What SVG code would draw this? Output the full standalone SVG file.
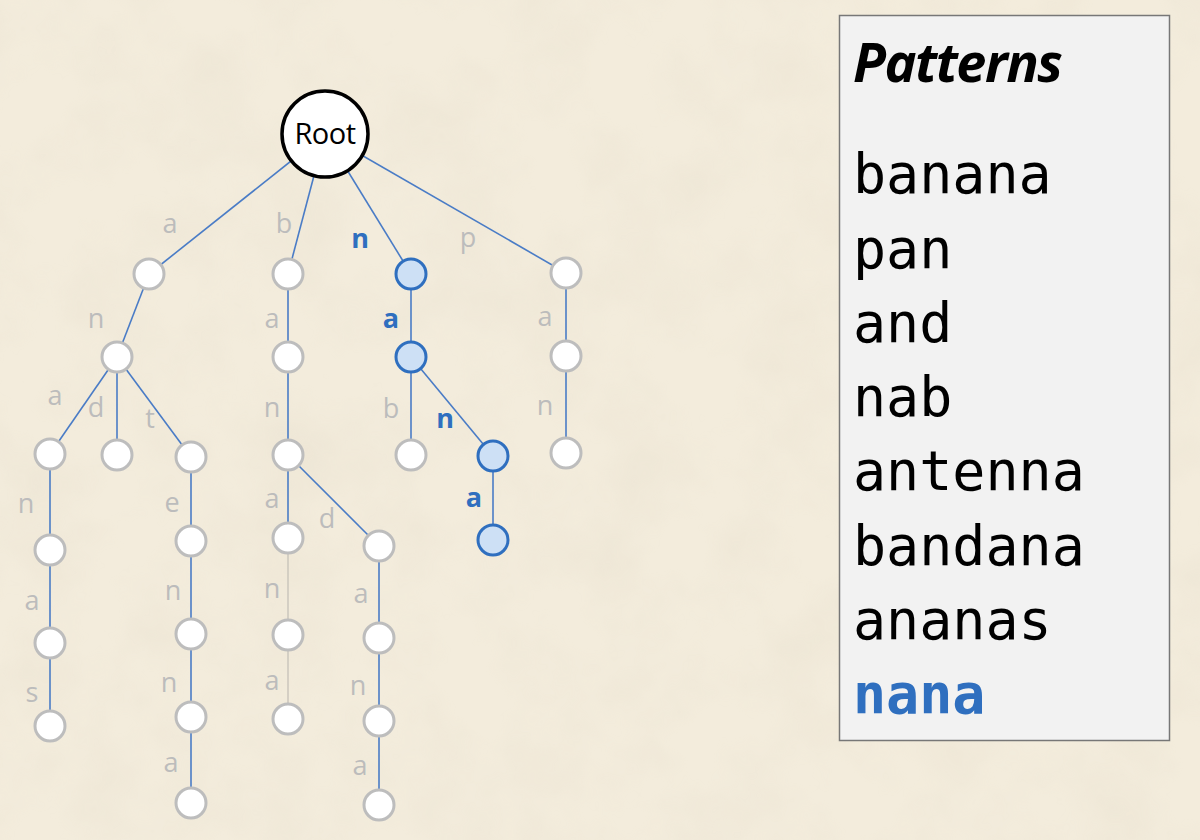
<svg xmlns="http://www.w3.org/2000/svg" width="1200" height="840" viewBox="0 0 1200 840">
<defs>
<style>
.nd{fill:#ffffff;stroke:#bdbdbd;stroke-width:3}
.hl{fill:#cde0f5;stroke:#2f6fbf;stroke-width:3}
.e{stroke:#4a7cc6;stroke-width:1.6;fill:none}
.eg{stroke:#cdc8be;stroke-width:1.6;fill:none}
.lb{font-family:"Open Sans","Noto Sans",sans-serif;font-size:27px;fill:#bcbcbc;text-anchor:middle}
.lbh{fill:#2f6fbf;font-weight:bold}
.pw{font-family:"DejaVu Sans Mono","Liberation Mono",monospace;font-size:55px;fill:#000}
.pwh{fill:#2f6fbf;font-weight:bold}
</style>
<filter id="paper" x="0" y="0" width="100%" height="100%">
<feTurbulence type="fractalNoise" baseFrequency="0.012" numOctaves="4" seed="3" result="n"/>
<feColorMatrix in="n" type="matrix" values="0 0 0 0 0.80  0 0 0 0 0.74  0 0 0 0 0.62  0 0 0 -1.2 0.75" result="c"/>
<feComposite in="c" in2="SourceGraphic" operator="in"/>
</filter>
</defs>
<rect x="0" y="0" width="1200" height="840" fill="#f3ecdc"/>
<rect x="0" y="0" width="1200" height="840" fill="#f3ecdc" filter="url(#paper)" opacity="0.6"/>

<g id="connectors">
<line class="e" x1="325" y1="134" x2="149" y2="274"/>
<line class="e" x1="325" y1="134" x2="288" y2="274"/>
<line class="e" x1="325" y1="134" x2="411" y2="274"/>
<line class="e" x1="325" y1="134" x2="566" y2="273"/>
<line class="e" x1="149" y1="274" x2="117" y2="357"/>
<line class="e" x1="288" y1="274" x2="288" y2="357"/>
<line class="e" x1="411" y1="274" x2="411" y2="357"/>
<line class="e" x1="566" y1="273" x2="566" y2="356"/>
<line class="e" x1="117" y1="357" x2="50" y2="454"/>
<line class="e" x1="117" y1="357" x2="117" y2="455"/>
<line class="e" x1="117" y1="357" x2="191" y2="457"/>
<line class="e" x1="288" y1="357" x2="288" y2="455"/>
<line class="e" x1="411" y1="357" x2="411" y2="455"/>
<line class="e" x1="411" y1="357" x2="493" y2="456"/>
<line class="e" x1="566" y1="356" x2="566" y2="453"/>
<line class="e" x1="50" y1="454" x2="50" y2="550"/>
<line class="e" x1="191" y1="457" x2="191" y2="541"/>
<line class="e" x1="288" y1="455" x2="288" y2="538"/>
<line class="e" x1="288" y1="455" x2="379" y2="546"/>
<line class="e" x1="493" y1="456" x2="493" y2="540"/>
<line class="e" x1="50" y1="550" x2="50" y2="643"/>
<line class="e" x1="191" y1="541" x2="191" y2="634"/>
<line class="eg" x1="288" y1="538" x2="288" y2="635"/>
<line class="e" x1="379" y1="546" x2="379" y2="638"/>
<line class="e" x1="50" y1="643" x2="50" y2="726"/>
<line class="e" x1="191" y1="634" x2="191" y2="717"/>
<line class="eg" x1="288" y1="635" x2="288" y2="719"/>
<line class="e" x1="379" y1="638" x2="379" y2="721"/>
<line class="e" x1="191" y1="717" x2="191" y2="803"/>
<line class="e" x1="379" y1="721" x2="379" y2="805"/>
</g>

<g id="edge-labels">
<text class="lb" x="170" y="233">a</text>
<text class="lb" x="284" y="233">b</text>
<text class="lb lbh" x="360" y="248">n</text>
<text class="lb" x="468" y="247">p</text>
<text class="lb" x="96" y="328">n</text>
<text class="lb" x="272" y="328">a</text>
<text class="lb lbh" x="391" y="328">a</text>
<text class="lb" x="545" y="326">a</text>
<text class="lb" x="55" y="405">a</text>
<text class="lb" x="96" y="417">d</text>
<text class="lb" x="150" y="428">t</text>
<text class="lb" x="272" y="417">n</text>
<text class="lb" x="391" y="418">b</text>
<text class="lb lbh" x="445" y="428">n</text>
<text class="lb" x="545" y="415">n</text>
<text class="lb lbh" x="474" y="507">a</text>
<text class="lb" x="26" y="513">n</text>
<text class="lb" x="172" y="512">e</text>
<text class="lb" x="272" y="508">a</text>
<text class="lb" x="327" y="528">d</text>
<text class="lb" x="32" y="610">a</text>
<text class="lb" x="173" y="600">n</text>
<text class="lb" x="272" y="598">n</text>
<text class="lb" x="361" y="603">a</text>
<text class="lb" x="32" y="702">s</text>
<text class="lb" x="169" y="692">n</text>
<text class="lb" x="272" y="690">a</text>
<text class="lb" x="358" y="695">n</text>
<text class="lb" x="171" y="772">a</text>
<text class="lb" x="360" y="775">a</text>
</g>

<g id="root">
<circle cx="325" cy="134" r="43" fill="#ffffff" stroke="#000" stroke-width="3.5"/>
<text x="325" y="144" font-family="Open Sans,Noto Sans,sans-serif" font-size="29" text-anchor="middle" fill="#000" letter-spacing="-0.5">Root</text>
</g>
<g id="n-a"><circle class="nd" cx="149" cy="274" r="15"/></g>
<g id="n-b"><circle class="nd" cx="288" cy="274" r="15"/></g>
<g id="n-n"><circle class="hl" cx="411" cy="274" r="15"/></g>
<g id="n-p"><circle class="nd" cx="566" cy="273" r="15"/></g>
<g id="n-an"><circle class="nd" cx="117" cy="357" r="15"/></g>
<g id="n-ba"><circle class="nd" cx="288" cy="357" r="15"/></g>
<g id="n-na"><circle class="hl" cx="411" cy="357" r="15"/></g>
<g id="n-pa"><circle class="nd" cx="566" cy="356" r="15"/></g>
<g id="n-ana"><circle class="nd" cx="50" cy="454" r="15"/></g>
<g id="n-and"><circle class="nd" cx="117" cy="455" r="15"/></g>
<g id="n-ant"><circle class="nd" cx="191" cy="457" r="15"/></g>
<g id="n-ban"><circle class="nd" cx="288" cy="455" r="15"/></g>
<g id="n-nab"><circle class="nd" cx="411" cy="455" r="15"/></g>
<g id="n-nan"><circle class="hl" cx="493" cy="456" r="15"/></g>
<g id="n-pan"><circle class="nd" cx="566" cy="453" r="15"/></g>
<g id="n-anan"><circle class="nd" cx="50" cy="550" r="15"/></g>
<g id="n-ante"><circle class="nd" cx="191" cy="541" r="15"/></g>
<g id="n-bana"><circle class="nd" cx="288" cy="538" r="15"/></g>
<g id="n-band"><circle class="nd" cx="379" cy="546" r="15"/></g>
<g id="n-nana"><circle class="hl" cx="493" cy="540" r="15"/></g>
<g id="n-anana"><circle class="nd" cx="50" cy="643" r="15"/></g>
<g id="n-anten"><circle class="nd" cx="191" cy="634" r="15"/></g>
<g id="n-banan"><circle class="nd" cx="288" cy="635" r="15"/></g>
<g id="n-banda"><circle class="nd" cx="379" cy="638" r="15"/></g>
<g id="n-ananas"><circle class="nd" cx="50" cy="726" r="15"/></g>
<g id="n-antenn"><circle class="nd" cx="191" cy="717" r="15"/></g>
<g id="n-banana"><circle class="nd" cx="288" cy="719" r="15"/></g>
<g id="n-bandan"><circle class="nd" cx="379" cy="721" r="15"/></g>
<g id="n-antenna"><circle class="nd" cx="191" cy="803" r="15"/></g>
<g id="n-bandana"><circle class="nd" cx="379" cy="805" r="15"/></g>

<g id="patterns">
<rect x="839.5" y="15.5" width="330" height="725" fill="#f2f2f2" stroke="#777" stroke-width="1.5"/>
<text x="853" y="82" font-family="Open Sans,Noto Sans,sans-serif" font-size="54" font-weight="bold" font-style="italic" fill="#000" letter-spacing="-1.5">Patterns</text>
<text class="pw" x="853" y="193">banana</text>
<text class="pw" x="853" y="268">pan</text>
<text class="pw" x="853" y="342">and</text>
<text class="pw" x="853" y="416">nab</text>
<text class="pw" x="853" y="490">antenna</text>
<text class="pw" x="853" y="565">bandana</text>
<text class="pw" x="853" y="639">ananas</text>
<text class="pw pwh" x="853" y="713">nana</text>
</g>
</svg>
